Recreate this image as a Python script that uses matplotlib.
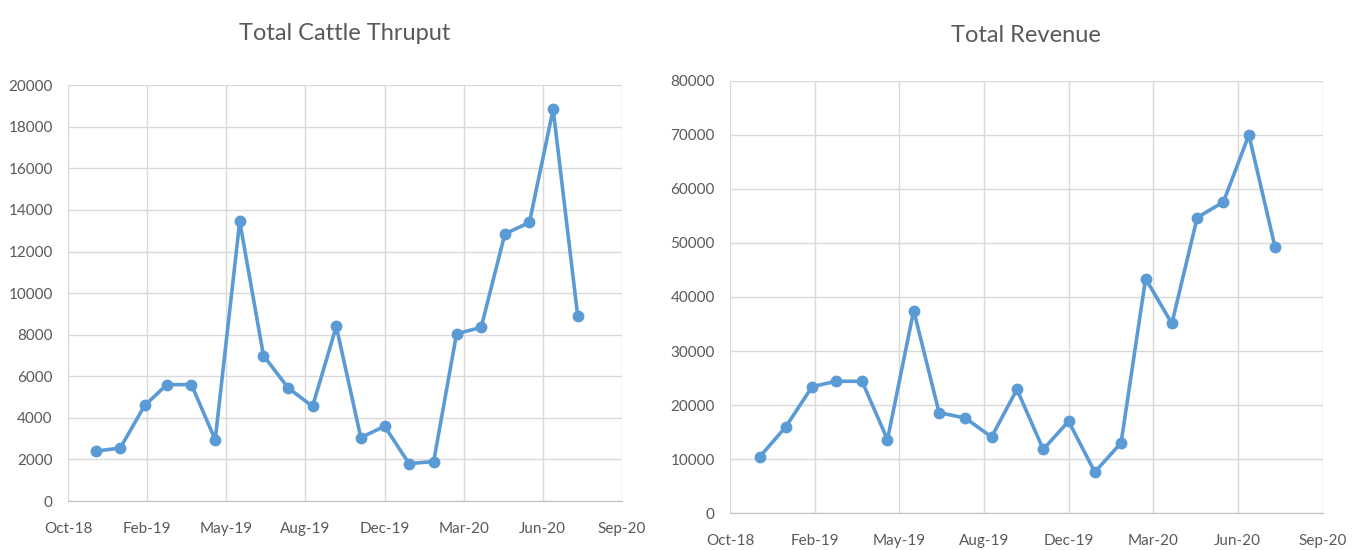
import numpy as np
import pandas as pd
import matplotlib
matplotlib.use("Agg")
import matplotlib.pyplot as plt
import matplotlib.dates as mdates

# monthly values
months = pd.date_range("2018-12-01", "2020-08-01", freq="MS")
cattle = [2400, 2550, 4600, 5600, 5600, 2950, 13450, 7000, 5450, 4550, 8400,
          3050, 3600, 1800, 1900, 8050, 8350, 12850, 13400, 18850, 8900]
revenue = [10400, 16000, 23400, 24400, 24400, 13600, 37500, 18600, 17600, 14100, 22900,
           11800, 17000, 7600, 13000, 43400, 35100, 54700, 57600, 70000, 49200]

# excel style date axis: ticks every 100 days
x_start = pd.Timestamp("2018-10-27")
x_ticks = [x_start + pd.Timedelta(days=100 * i) for i in range(8)]

plt.rcParams['font.family'] = ['Lato', 'DejaVu Sans']
blue = "#5B9BD5"
grey_txt = "#595959"
grid_col = "#D9D9D9"

fig = plt.figure(figsize=(13.62, 5.5), dpi=100)
ax1 = fig.add_axes([0.0499, 0.089, 0.4068, 0.756])
ax2 = fig.add_axes([0.536, 0.067, 0.435, 0.786])


def style(ax, y, ymax, ystep, title, title_y):
    ax.plot(months, y, color=blue, lw=2.6, marker="o", ms=7.5, zorder=3)
    ax.set_xlim(x_ticks[0], x_ticks[-1])
    ax.set_xticks(x_ticks)
    ax.xaxis.set_major_formatter(mdates.DateFormatter("%b-%y"))
    ax.set_ylim(0, ymax)
    ax.set_yticks(np.arange(0, ymax + 1, ystep))
    ax.grid(True, color=grid_col, lw=1)
    ax.set_axisbelow(True)
    for s in ["top", "right", "left"]:
        ax.spines[s].set_visible(False)
    ax.spines["bottom"].set_color("#BFBFBF")
    ax.tick_params(length=0, labelsize=11, colors=grey_txt)
    ax.tick_params(axis="y", pad=11)
    ax.tick_params(axis="x", pad=15)
    fig.text((ax.get_position().x0 + ax.get_position().x1) / 2, title_y, title,
             ha="center", va="center", fontsize=17, color=grey_txt)


style(ax1, cattle, 20000, 2000, "Total Cattle Thruput", 1 - 33 / 550)
style(ax2, revenue, 80000, 10000, "Total Revenue", 1 - 35 / 550)

fig.savefig("out.png", dpi=100, facecolor="white")
